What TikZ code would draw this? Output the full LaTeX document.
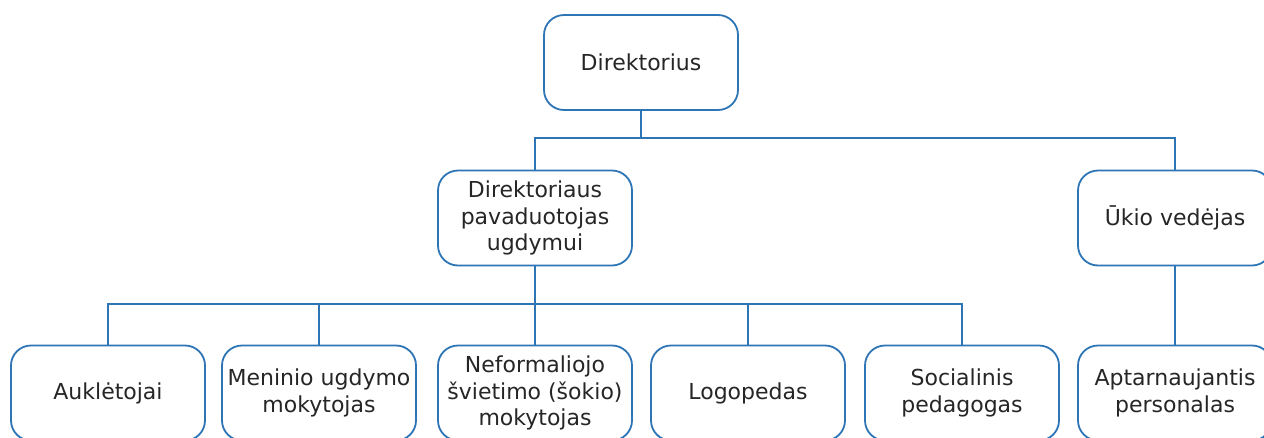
\documentclass[tikz,border=0pt]{standalone}
\usepackage{fontspec}
\setmainfont{DejaVu Sans}
\definecolor{boxblue}{RGB}{46,117,182}
\definecolor{txt}{RGB}{38,38,38}
\begin{document}
\begin{tikzpicture}[x=1pt,y=-1pt,
  orgbox/.style={draw=boxblue, line width=1.8pt, rounded corners=20pt, fill=white,
    minimum width=194pt, minimum height=95pt, align=center, text=txt,
    font=\fontsize{22}{26.5}\selectfont, inner sep=1pt},
  link/.style={draw=boxblue, line width=1.8pt}]
\useasboundingbox (0,0) rectangle (1264,437);
\node[orgbox] (dir) at (641,62.5) {Direktorius};
\node[orgbox] (dep) at (535,218) {Direktoriaus\\pavaduotojas\\ugdymui};
\node[orgbox] (ukio) at (1175,218) {Ūkio vedėjas};
\node[orgbox] (aukl) at (108,393) {Auklėtojai};
\node[orgbox] (men) at (319,393) {Meninio ugdymo\\mokytojas};
\node[orgbox] (nef) at (535,393) {Neformaliojo\\švietimo (šokio)\\mokytojas};
\node[orgbox] (log) at (748,393) {Logopedas};
\node[orgbox] (soc) at (962,393) {Socialinis\\pedagogas};
\node[orgbox] (apt) at (1175,393) {Aptarnaujantis\\personalas};
\coordinate (bt) at (641,138);
\coordinate (bb) at (535,304);
\draw[link] (dir.south) -- (bt);
\draw[link] (dep.north) |- (bt) -| (ukio.north);
\draw[link] (dep.south) -- (bb);
\draw[link] (aukl.north) |- (bb) -| (soc.north);
\draw[link] (men.north) -- (men.north |- bb);
\draw[link] (nef.north) -- (bb);
\draw[link] (log.north) -- (log.north |- bb);
\draw[link] (ukio.south) -- (apt.north);
\end{tikzpicture}
\end{document}
